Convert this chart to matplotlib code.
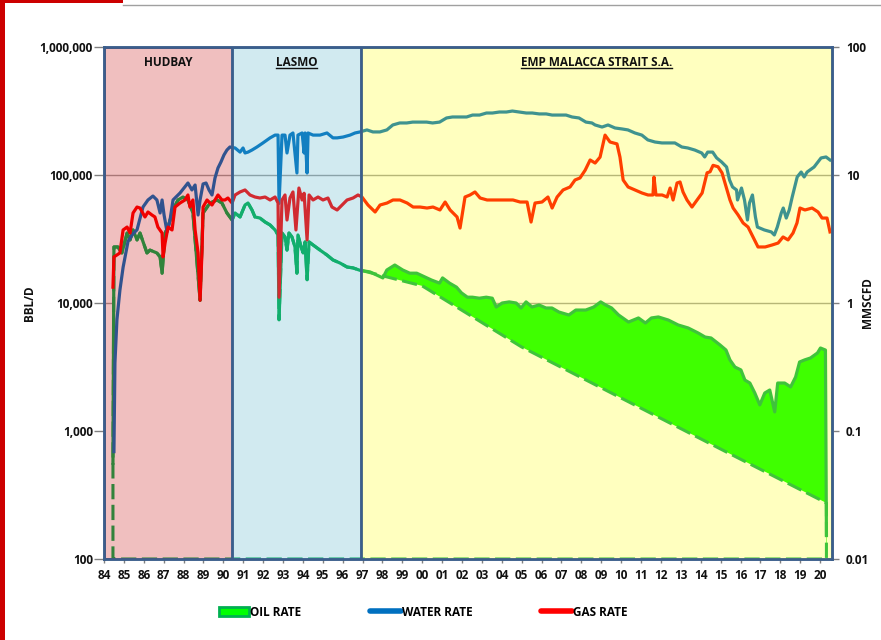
import numpy as np
import matplotlib
matplotlib.use('Agg')
import matplotlib.pyplot as plt
from matplotlib.patches import Patch, Rectangle
from matplotlib.lines import Line2D
from matplotlib.ticker import FuncFormatter, NullLocator

plt.rcParams['font.family'] = ['Open Sans', 'DejaVu Sans']
plt.rcParams['font.weight'] = 'bold'

# ---- values (years as decimals) ----
water_year = [1984.50, 1984.55, 1984.65, 1984.80, 1984.96, 1985.21, 1985.46, 1985.66, 1985.96,
              1986.21, 1986.46, 1986.66, 1986.82, 1986.92, 1987.02, 1987.17, 1987.32, 1987.47,
              1987.67, 1987.82, 1988.02, 1988.22, 1988.42, 1988.58, 1988.73, 1988.83, 1988.98,
              1989.13, 1989.28, 1989.43, 1989.58, 1989.73, 1989.88, 1990.03, 1990.18, 1990.33,
              1990.59, 1990.84, 1990.99, 1991.09, 1991.24, 1991.44, 1991.69, 1991.99, 1992.35,
              1992.60, 1992.75, 1992.80, 1992.95, 1993.10, 1993.20, 1993.35, 1993.50, 1993.70,
              1993.75, 1993.96, 1994.06, 1994.11, 1994.21, 1994.26, 1994.51, 1994.86, 1995.21,
              1995.51, 1995.72, 1996.02, 1996.37, 1996.62, 1996.87,
              1997.22, 1997.52, 1997.87, 1998.22, 1998.52, 1998.87, 1999.22, 1999.52, 1999.87,
              2000.22, 2000.52, 2000.87, 2001.22, 2001.52, 2001.88, 2002.23, 2002.53, 2002.88,
              2003.23, 2003.53, 2003.88, 2004.23, 2004.53, 2004.88, 2005.23, 2005.53, 2005.88,
              2006.23, 2006.53, 2006.88, 2007.23, 2007.53, 2007.88, 2008.23, 2008.53, 2008.69,
              2009.04, 2009.34, 2009.69, 2010.04, 2010.34, 2010.69, 2011.04, 2011.34, 2011.70,
              2012.05, 2012.35, 2012.70, 2013.05, 2013.35, 2013.70, 2014.05, 2014.20, 2014.35,
              2014.60, 2014.80, 2015.05, 2015.30, 2015.45, 2015.60, 2015.80, 2015.85, 2016.05,
              2016.20, 2016.35, 2016.45, 2016.60, 2016.75, 2016.85, 2017.20, 2017.55, 2017.70,
              2017.85, 2018.05, 2018.15, 2018.30, 2018.45, 2018.60, 2018.85, 2019.05, 2019.20,
              2019.35, 2019.70, 2020.05, 2020.30, 2020.50]
water_rate = [690, 3400, 7400, 12600, 19000, 30400, 34800, 37300, 56200,
              63800, 68500, 63800, 50500, 63800, 48700, 35900, 44500, 63800,
              68500, 72300, 79100, 86600, 76400, 83500, 48700, 63800, 85100,
              86600, 76400, 69800, 94800, 113400, 126400, 143300, 156700, 165500,
              162600, 151000, 162600, 148600, 151000, 156700, 165500, 178000, 195000,
              205000, 205000, 60000, 205000, 205000, 148600, 205000, 213000, 103700,
              205000, 213000, 148600, 213000, 103700, 213000, 205000, 205000, 213000,
              195000, 195000, 198000, 205000, 213000, 217000,
              225000, 217000, 217000, 225000, 246000, 255000, 255000, 259000, 259000,
              259000, 255000, 259000, 279000, 284000, 284000, 284000, 294000, 294000,
              305000, 305000, 310500, 310500, 316000, 310500, 305000, 305000, 300000,
              300000, 294000, 294000, 294000, 284000, 279000, 259000, 255000, 246000,
              237000, 246000, 233000, 229000, 225000, 213000, 205000, 188000, 181000,
              178000, 178000, 178000, 165500, 162600, 156700, 148600, 138300, 151000,
              151000, 136000, 126400, 115500, 91400, 80600, 76400, 63800, 79100,
              63800, 44500, 60400, 69800, 47000, 39200, 37200, 35900, 34000,
              39200, 50500, 55200, 46100, 53300, 67300, 96500, 105500, 96500,
              105500, 115500, 135900, 138300, 131000]

oil_year = [1984.45, 1984.50, 1984.70, 1984.90, 1985.16, 1985.31, 1985.46, 1985.66, 1985.81,
            1986.16, 1986.31, 1986.66, 1986.82, 1986.92, 1987.07, 1987.22, 1987.47, 1987.72,
            1987.97, 1988.22, 1988.47, 1988.83, 1988.98, 1989.33, 1989.68, 1989.93, 1990.18,
            1990.44, 1990.59, 1990.84, 1991.09, 1991.24, 1991.44, 1991.59, 1991.84, 1992.10,
            1992.35, 1992.60, 1992.75, 1992.80, 1992.95, 1993.10, 1993.20, 1993.30, 1993.45,
            1993.60, 1993.70, 1993.75, 1993.91, 1994.01, 1994.11, 1994.21, 1994.31, 1994.51,
            1994.86, 1995.21, 1995.51, 1995.87, 1996.22, 1996.52, 1996.87,
            1997.37, 1998.02, 1998.22, 1998.62, 1999.02, 1999.37, 1999.72, 2000.12, 2000.47,
            2000.87, 2001.02, 2001.37, 2001.72, 2001.97, 2002.27, 2002.52, 2002.87, 2003.22,
            2003.52, 2003.72, 2004.02, 2004.37, 2004.72, 2004.97, 2005.22, 2005.52, 2005.87,
            2006.22, 2006.52, 2006.87, 2007.37, 2007.72, 2008.22, 2008.62, 2008.97, 2009.22,
            2009.52, 2009.87, 2010.37, 2010.87, 2011.22, 2011.52, 2011.87, 2012.37, 2012.87,
            2013.37, 2013.87, 2014.22, 2014.52, 2014.97, 2015.27, 2015.47, 2015.72, 2016.02,
            2016.22, 2016.47, 2016.72, 2016.97, 2017.22, 2017.47, 2017.72, 2017.87, 2018.22,
            2018.52, 2018.77, 2018.97, 2019.22, 2019.52, 2019.87, 2020.02, 2020.27, 2020.32]
oil_rate = [560, 27400, 27400, 24600, 35200, 31100, 37200, 31100, 35200,
            24600, 25900, 24600, 22900, 17100, 35200, 39200, 53300, 63800,
            67300, 63800, 50500, 10500, 50500, 60400, 63800, 60400, 50500,
            44500, 50500, 47000, 58300, 60400, 53300, 47000, 46100, 42900,
            40700, 37200, 34000, 7400, 35200, 32800, 25900, 35200, 32800,
            27400, 17100, 34000, 27400, 24600, 30000, 15200, 30000, 28400,
            25900, 23700, 21700, 20500, 19100, 18800, 18000,
            17500, 15700, 18100, 19800, 18100, 17100, 17100, 16000, 15100,
            14300, 15700, 14300, 13300, 12000, 11100, 11100, 10900, 11100,
            10900, 9300, 10000, 10200, 10000, 9140, 10200, 9300, 9650,
            9140, 9140, 8500, 8060, 8810, 8810, 9300, 10200, 9650,
            9140, 8060, 7100, 7640, 6980, 7640, 7780, 7360, 6730,
            6380, 5830, 5420, 5330, 4700, 4290, 3590, 3160, 3000,
            2500, 2370, 1980, 1600, 1980, 2090, 1410, 2370, 2370,
            2210, 2640, 3460, 3590, 3720, 4070, 4450, 4290, 154]

# dashed exponential decline (baseline) from 1997 onward
decline_year = [1996.92, 2000.0, 2005.0, 2010.0, 2015.0, 2020.32]
decline_rate = [18000, 13600, 4530, 1810, 723, 274]

gas_year = [1984.45, 1984.50, 1984.80, 1984.96, 1985.16, 1985.31, 1985.46, 1985.66, 1985.81,
            1986.06, 1986.21, 1986.41, 1986.56, 1986.71, 1986.92, 1986.97, 1987.07, 1987.22,
            1987.42, 1987.57, 1987.82, 1988.07, 1988.22, 1988.32, 1988.47, 1988.58, 1988.73,
            1988.83, 1988.93, 1988.98, 1989.18, 1989.43, 1989.58, 1989.73, 1989.93, 1990.08,
            1990.23, 1990.44, 1990.59, 1990.84, 1991.09, 1991.34, 1991.59, 1991.84, 1992.10,
            1992.35, 1992.60, 1992.75, 1992.80, 1992.95, 1993.10, 1993.20, 1993.35, 1993.50,
            1993.65, 1993.80, 1993.96, 1994.06, 1994.21, 1994.31, 1994.51, 1994.76, 1995.01,
            1995.26, 1995.46, 1995.72, 1995.97, 1996.22, 1996.52, 1996.77, 1996.97,
            1997.27, 1997.63, 1997.88, 1998.23, 1998.53, 1998.88, 1999.24, 1999.54, 1999.89,
            2000.24, 2000.54, 2000.89, 2001.15, 2001.40, 2001.75, 2001.90, 2002.15, 2002.40,
            2002.65, 2002.91, 2003.26, 2003.56, 2003.91, 2004.26, 2004.56, 2004.92, 2005.27,
            2005.47, 2005.67, 2006.02, 2006.32, 2006.53, 2006.78, 2007.08, 2007.43, 2007.68,
            2007.93, 2008.19, 2008.44, 2008.69, 2008.94, 2009.19, 2009.44, 2009.79, 2009.94,
            2010.10, 2010.35, 2010.70, 2011.05, 2011.35, 2011.60, 2011.65, 2011.75, 2012.06,
            2012.31, 2012.46, 2012.61, 2012.81, 2012.96, 2013.11, 2013.31, 2013.56, 2013.82,
            2014.07, 2014.32, 2014.47, 2014.62, 2014.87, 2015.07, 2015.22, 2015.47, 2015.63,
            2015.88, 2016.13, 2016.38, 2016.63, 2016.88, 2017.24, 2017.59, 2017.89, 2018.14,
            2018.39, 2018.64, 2018.84, 2018.99, 2019.24, 2019.60, 2019.90, 2020.10, 2020.35,
            2020.50]
gas_rate = [1.33, 2.29, 2.46, 3.72, 3.92, 3.52, 5.05, 5.62, 5.52,
            4.70, 5.14, 4.87, 4.70, 3.92, 3.52, 2.29, 2.94, 3.92,
            3.72, 5.62, 6.04, 6.38, 6.98, 5.62, 6.38, 3.72, 2.46,
            1.05, 2.60, 5.62, 6.38, 5.83, 6.38, 6.98, 6.38, 6.38,
            6.61, 6.04, 6.98, 7.37, 7.64, 6.98, 6.73, 6.61, 6.73,
            6.38, 6.73, 6.04, 1.11, 6.38, 6.98, 4.45, 6.61, 7.37,
            3.72, 7.91, 6.38, 7.20, 3.11, 6.98, 6.38, 6.73, 6.38,
            6.61, 5.62, 5.33, 5.83, 6.38, 6.61, 6.98, 6.73,
            5.83, 5.14, 5.83, 6.04, 6.38, 6.38, 6.04, 5.62, 5.62,
            5.52, 5.62, 5.33, 6.15, 5.33, 4.70, 3.85, 6.73, 6.98,
            7.37, 6.61, 6.38, 6.38, 6.38, 6.38, 6.38, 6.15, 6.15,
            4.29, 6.04, 6.15, 6.73, 5.52, 6.73, 7.64, 8.06, 9.14,
            9.48, 10.9, 13.1, 12.4, 13.8, 20.5, 18.1, 17.5, 13.8,
            9.14, 8.06, 7.64, 7.23, 6.98, 6.98, 9.65, 6.98, 6.98,
            6.73, 7.91, 6.38, 8.66, 8.82, 7.37, 6.38, 5.62, 6.38,
            7.23, 10.4, 10.6, 11.9, 11.6, 10.4, 8.66, 6.38, 5.52,
            4.87, 4.22, 3.92, 3.28, 2.74, 2.74, 2.84, 2.94, 3.28,
            3.11, 3.52, 4.22, 5.52, 5.33, 5.52, 5.14, 4.61, 4.61,
            3.59]

periods = ['HUDBAY', 'LASMO', 'EMP MALACCA STRAIT S.A.']
period_start = [1984.0, 1990.44, 1996.92]
period_end = [1990.44, 1996.92, 2020.6]
period_underline = [False, True, True]

year_ticks = list(range(1984, 2021))
year_labels = ['%02d' % (y % 100) for y in year_ticks]
left_ticks = [100, 1000, 10000, 100000, 1000000]
right_ticks = [0.01, 0.1, 1, 10, 100]
right_labels = ['0.01', '0.1', '1', '10', '100']
grid_values = [10000, 100000]

# ---- styles ----
OIL_LINE = '#00B050'
OIL_FILL = '#00FF00'
WATER = '#0070C0'
GAS = '#FF0000'
FRAME = '#3B5E8C'
GRID = '#A0A0A0'
TXT = '#111111'
FS = 8.5
period_colors = [(0.78, 0.0, 0.0, 0.25),
                 (75 / 255., 172 / 255., 198 / 255., 0.25),
                 (1.0, 1.0, 0.0, 0.25)]

W, H = 881, 640
fig = plt.figure(figsize=(W / 100., H / 100.), dpi=100)
ax = fig.add_axes([104. / W, 1 - 559. / H, 728. / W, 512. / H])
ax.set_yscale('log')
ax.set_ylim(100, 1e6)
ax.set_xlim(1984, 2020.6)

for v in grid_values:
    ax.axhline(v, color=GRID, lw=1, zorder=1)

oil_year = np.array(oil_year)
oil_rate = np.array(oil_rate)
post = oil_year >= decline_year[0] - 0.1
pre = oil_year < decline_year[0]

# bright green area between the oil rate and the decline baseline
ax.fill_between(oil_year[post], 100, oil_rate[post], color=OIL_FILL, lw=0, zorder=2)
base_x = np.concatenate([oil_year[pre], decline_year])
base_y = np.concatenate([oil_rate[pre], decline_rate])
ax.fill_between(base_x, 100, base_y, facecolor='white', edgecolor=OIL_LINE,
                linestyle=(0, (5, 1.8)), linewidth=2.2, zorder=3)

ax.plot(oil_year, oil_rate, color=OIL_LINE, lw=2.3, zorder=4)
ax.plot(water_year, water_rate, color=WATER, lw=2.3, zorder=5)

ax.set_xticks(year_ticks)
ax.set_xticklabels(year_labels)
ax.set_yticks(left_ticks)
ax.yaxis.set_major_formatter(FuncFormatter(lambda v, p: '{:,.0f}'.format(v)))
ax.yaxis.set_minor_locator(NullLocator())
ax.xaxis.set_minor_locator(NullLocator())
ax.tick_params(axis='y', length=7, width=1, color='#808080', pad=1, labelsize=FS, labelcolor=TXT)
ax.tick_params(axis='x', length=3, width=1, color='#808080', pad=4, labelsize=FS, labelcolor=TXT)

ax2 = ax.twinx()
ax2.set_yscale('log')
ax2.set_ylim(0.01, 100)
ax2.plot(gas_year, gas_rate, color=GAS, lw=2.3, zorder=2)
ax2.set_yticks(right_ticks)
ax2.set_yticklabels(right_labels)
ax2.yaxis.set_minor_locator(NullLocator())
ax2.tick_params(axis='y', length=5, width=1, color='#808080', pad=5, labelsize=FS, labelcolor=TXT)

for a in (ax, ax2):
    for s in a.spines.values():
        s.set_color(FRAME)
        s.set_linewidth(1.8)

# transparent company periods drawn over the curves
labels_txt = []
for name, s, e, c, ul in zip(periods, period_start, period_end, period_colors, period_underline):
    ax2.axvspan(s, e, facecolor=c, edgecolor=FRAME, lw=1.8, zorder=5)
    t = ax2.text((s + e) / 2., 0.97, name, transform=ax2.get_xaxis_transform(),
                 ha='center', va='center', fontsize=8.5, fontweight='bold', color=TXT, zorder=7)
    labels_txt.append((t, ul))

fig.text(30. / W, 1 - 303. / H, 'BBL/D', rotation=90, ha='center', va='center',
         fontsize=FS, fontweight='bold', color=TXT)
fig.text(868. / W, 1 - 303. / H, 'MMSCFD', rotation=90, ha='center', va='center',
         fontsize=FS, fontweight='bold', color=TXT)

handles = [Patch(facecolor=OIL_FILL, edgecolor=OIL_LINE, lw=2),
           Line2D([], [], color=WATER, lw=4, solid_capstyle='round'),
           Line2D([], [], color=GAS, lw=4, solid_capstyle='round')]
fig.legend(handles, ['OIL RATE', 'WATER RATE', 'GAS RATE'], loc='center',
           bbox_to_anchor=(423. / W, 1 - 612. / H), ncol=3, frameon=False,
           handlelength=2.6, handletextpad=0.1, columnspacing=5.8,
           prop={'size': 8.5, 'weight': 'bold'})

# red corner decoration of the slide
fig.add_artist(Rectangle((0, 0), 5. / W, 1, transform=fig.transFigure, color='#CC0000', lw=0))
fig.add_artist(Rectangle((0, 1 - 3. / H), 123. / W, 3. / H, transform=fig.transFigure,
                         color='#CC0000', lw=0))
fig.add_artist(Line2D([123. / W, 1], [1 - 4.5 / H, 1 - 4.5 / H], transform=fig.transFigure,
                      color='#A0A0A0', lw=1))

# underline some period names
fig.canvas.draw()
inv = fig.transFigure.inverted()
for t, ul in labels_txt:
    if not ul:
        continue
    bb = t.get_window_extent()
    (x0, y0), (x1, _) = inv.transform([(bb.x0, bb.y0 + 1), (bb.x1, bb.y0 + 1)])
    fig.add_artist(Line2D([x0, x1], [y0, y0], transform=fig.transFigure, color=TXT, lw=1))

fig.savefig('out.png', dpi=100)
